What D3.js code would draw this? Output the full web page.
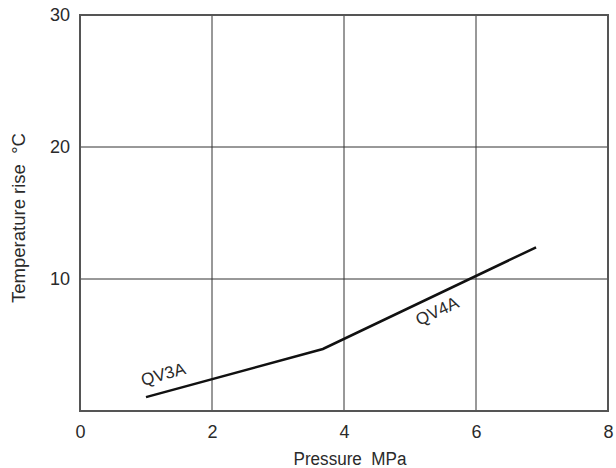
<!DOCTYPE html>
<html>
<head>
<meta charset="utf-8">
<script src="https://cdn.jsdelivr.net/npm/d3@7"></script>
<style>
  body { margin: 0; background: #fff; }
  text { font-family: "Liberation Sans", Arial, sans-serif; fill: #2a2a2a; }
</style>
</head>
<body>
<div id="chart"></div>
<script>
/* Temperature rise vs pressure */

const pressure = [1.0, 3.68, 6.91];        // MPa
const tempRise = [1.05, 4.7, 12.4];        // °C
const xTicks = [0, 2, 4, 6, 8];
const yTicks = [10, 20, 30];
const labels = ["QV3A", "QV4A"];
const labelX = [1.26, 5.41];
const labelY = [2.8, 7.58];
const labelAngle = [-16, -25];

const width = 616,
      height = 468,
      margin = ({ top: 15, right: 8, bottom: 57, left: 80 });

let svg = d3.select("#chart")
    .append("svg")
    .attr("width", width)
    .attr("height", height);

let x = d3.scaleLinear()
    .domain([0, 8])
    .range([margin.left, width - margin.right]);

let y = d3.scaleLinear()
    .domain([0, 30])
    .range([height - margin.bottom, margin.top]);

// grid
svg.append("g")
    .selectAll("line")
    .data(xTicks.slice(1, -1))
    .join("line")
    .attr("x1", d => x(d)).attr("x2", d => x(d))
    .attr("y1", y(0)).attr("y2", y(30))
    .attr("stroke", "#333").attr("stroke-width", 1);

svg.append("g")
    .selectAll("line")
    .data(yTicks.slice(0, -1))
    .join("line")
    .attr("x1", x(0)).attr("x2", x(8))
    .attr("y1", d => y(d)).attr("y2", d => y(d))
    .attr("stroke", "#333").attr("stroke-width", 1);

// frame
svg.append("rect")
    .attr("x", x(0)).attr("y", y(30))
    .attr("width", x(8) - x(0)).attr("height", y(0) - y(30))
    .attr("fill", "none")
    .attr("stroke", "#555")
    .attr("stroke-width", 2);

// axes (labels only)
let xAxis = svg.append("g")
    .attr("transform", `translate(0,${y(0)})`)
    .call(d3.axisBottom(x).tickValues(xTicks).tickSize(0).tickPadding(14));
xAxis.select(".domain").remove();
xAxis.selectAll("text")
    .style("font-family", "'Liberation Sans', Arial, sans-serif")
    .style("font-size", "18px").attr("fill", "#2a2a2a");

let yAxis = svg.append("g")
    .attr("transform", `translate(${x(0)},0)`)
    .call(d3.axisLeft(y).tickValues(yTicks).tickSize(0).tickPadding(10));
yAxis.select(".domain").remove();
yAxis.selectAll("text")
    .style("font-family", "'Liberation Sans', Arial, sans-serif")
    .style("font-size", "18px").attr("fill", "#2a2a2a");

// titles (condensed look via textLength)
svg.append("text")
    .attr("x", 350)
    .attr("y", height - 3)
    .attr("text-anchor", "middle")
    .attr("textLength", 113)
    .attr("lengthAdjust", "spacingAndGlyphs")
    .style("font-size", "18px")
    .style("white-space", "pre")
    .text("Pressure  MPa");

svg.append("text")
    .attr("transform", `translate(25,218) rotate(-90)`)
    .attr("text-anchor", "middle")
    .attr("textLength", 170)
    .attr("lengthAdjust", "spacingAndGlyphs")
    .style("font-size", "18px")
    .style("white-space", "pre")
    .text("Temperature rise  °C");

// line
let pts = pressure.map((p, i) => [p, tempRise[i]]);
svg.append("path")
    .datum(pts)
    .attr("fill", "none")
    .attr("stroke", "#111")
    .attr("stroke-width", 2.5)
    .attr("d", d3.line().x(d => x(d[0])).y(d => y(d[1])));

// series labels
svg.append("g")
    .selectAll("text")
    .data(labels)
    .join("text")
    .attr("transform", (d, i) => `translate(${x(labelX[i])},${y(labelY[i])}) rotate(${labelAngle[i]})`)
    .attr("text-anchor", "middle")
    .attr("dy", "0.35em")
    .style("font-size", "17px")
    .text(d => d);
</script>
</body>
</html>
